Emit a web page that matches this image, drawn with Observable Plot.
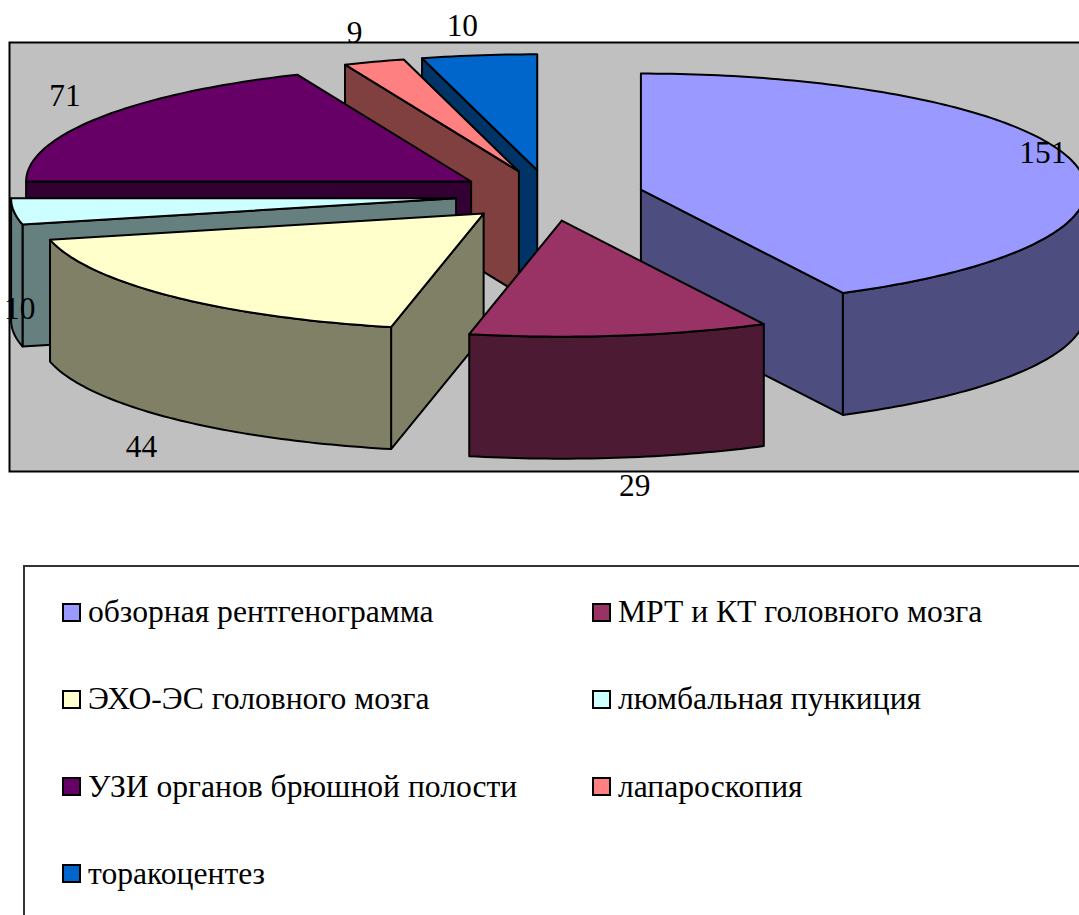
<!DOCTYPE html>
<html lang="ru">
<head>
<meta charset="utf-8">
<title>Диагностические методы</title>
<script src="https://cdn.jsdelivr.net/npm/d3@7"></script>
<script src="https://cdn.jsdelivr.net/npm/@observablehq/plot@0.6"></script>
<style>
  html, body { margin: 0; padding: 0; background: #fff; overflow: hidden; width: 1079px; height: 915px; }
  #chart svg { display: block; }
  #legend {
    position: absolute; left: 23px; top: 565px; width: 1100px; height: 400px;
    box-sizing: border-box; border: 2px solid #333; background: #fff;
    font: 31.6px "Liberation Serif", "Times New Roman", serif; color: #000;
  }
  .entry { position: absolute; display: flex; align-items: center; white-space: nowrap; height: 34px; }
  .swatch { width: 15px; height: 15px; border: 2px solid #000; margin-right: 7px; flex: none; }
</style>
</head>
<body>
<div id="chart"></div>
<div id="legend"></div>
<script>
// Survey counts per diagnostic method, in slice order.
const methods = [
  "обзорная рентгенограмма",
  "МРТ и КТ головного мозга",
  "ЭХО-ЭС головного мозга",
  "люмбальная пункиция",
  "УЗИ органов брюшной полости",
  "лапароскопия",
  "торакоцентез"
];
const counts = [151, 29, 44, 10, 71, 9, 10];
const topColors = ["#9999FF", "#993366", "#FFFFCC", "#CCFFFF", "#660066", "#FF8080", "#0066CC"];
const sideColors = ["#4D4D80", "#4D1A33", "#808066", "#668080", "#330033", "#804040", "#003366"];

// Oblique view of the exploded pie: a tilted disc of fixed thickness.
const view = { cx: 549, cy: 195, explode: 94, tilt: 0.27, rx: 445, ry: 116, depth: 122 };
// Viewing distortion: where each slice boundary lands on the tilted ellipse.
const viewedEdges = [0, 153, 192, 257, 270, 337, 345, 360];
// Label displacement from the slice rim, one pair per slice.
const labelNudge = [[-74, -7], [9, 139], [1, 142], [50, 96], [2, -15], [-5, -18], [-11, -18]];
// Painter's order: back slices first, the two front-right slices last.
const paintOrder = [6, 5, 4, 3, 2, 0, 1];

const rad = (deg) => (deg * Math.PI) / 180;
const total = d3.sum(counts);
const cumulative = d3.cumsum(counts);
const trueEdges = [0, ...cumulative].map((c) => (c / total) * 360);
const warp = d3.scaleLinear().domain(trueEdges).range(viewedEdges);

const slices = counts.map((value, i) => {
  const t0 = warp(trueEdges[i]);
  const t1 = warp(trueEdges[i + 1]);
  const mid = (t0 + t1) / 2;
  const apex = {
    x: view.cx + view.explode * Math.sin(rad(mid)),
    y: view.cy - view.explode * view.tilt * Math.cos(rad(mid))
  };
  return { i, value, t0, t1, mid, apex };
});

const rim = (s, t, drop = 0) => ({
  x: s.apex.x + view.rx * Math.sin(rad(t)),
  y: s.apex.y - view.ry * Math.cos(rad(t)) + drop
});
const arc = (s, a, b, drop = 0) => {
  const n = Math.max(2, Math.ceil(Math.abs(b - a)));
  return d3.range(n + 1).map((k) => rim(s, a + ((b - a) * k) / n, drop));
};
const close = (pts) => [...pts, pts[0]];
const radialFace = (s, t) => close([
  s.apex, rim(s, t), rim(s, t, view.depth), { x: s.apex.x, y: s.apex.y + view.depth }
]);

// Every visible face of a slice, as a closed outline in chart units.
function facesOf(s) {
  const faces = [];
  if (Math.sin(rad(s.t0)) < -1e-6) faces.push({ pts: radialFace(s, s.t0), fill: sideColors[s.i] });
  if (Math.sin(rad(s.t1)) > 1e-6) faces.push({ pts: radialFace(s, s.t1), fill: sideColors[s.i] });
  const a = Math.max(s.t0, 90), b = Math.min(s.t1, 270);
  if (b > a) {
    faces.push({
      pts: close([...arc(s, a, b), ...arc(s, b, a, view.depth)]),
      fill: sideColors[s.i]
    });
  }
  faces.push({ pts: close([s.apex, ...arc(s, s.t0, s.t1)]), fill: topColors[s.i] });
  return faces;
}

const faces = paintOrder.flatMap((i) => facesOf(slices[i]));

const labels = slices.map((s) => ({
  value: s.value,
  x: s.apex.x + 1.1 * view.rx * Math.sin(rad(s.mid)) + labelNudge[s.i][0],
  y: s.apex.y - 1.1 * view.ry * Math.cos(rad(s.mid)) + labelNudge[s.i][1]
}));

const plot = Plot.plot({
  width: 1079,
  height: 510,
  margin: 0,
  x: { domain: [0, 1079], range: [0, 1079], axis: null },
  y: { domain: [0, 510], range: [0, 510], axis: null },
  style: { background: "transparent", overflow: "hidden" },
  marks: [
    Plot.frame({
      fill: "#C0C0C0", stroke: "#000", strokeWidth: 2,
      insetLeft: 9, insetTop: 42, insetBottom: 39, insetRight: -6
    }),
    ...faces.map((f) => Plot.line(f.pts, {
      x: "x", y: "y", fill: f.fill, stroke: "#000", strokeWidth: 2,
      strokeLinejoin: "round", curve: "linear"
    })),
    Plot.text(labels, {
      x: "x", y: "y", text: (d) => String(d.value),
      fontFamily: "Liberation Serif, Times New Roman, serif",
      fontSize: 31.4, fill: "#000", lineAnchor: "middle", textAnchor: "middle"
    })
  ]
});
document.getElementById("chart").append(plot);

// Two-column legend under the chart, filled row by row.
const legend = document.getElementById("legend");
methods.forEach((name, i) => {
  const entry = document.createElement("div");
  entry.className = "entry";
  entry.style.left = (i % 2 ? 567 : 37) + "px";
  entry.style.top = 28 + 87.3 * Math.floor(i / 2) + "px";
  const swatch = document.createElement("span");
  swatch.className = "swatch";
  swatch.style.background = topColors[i];
  const text = document.createElement("span");
  text.textContent = name;
  entry.append(swatch, text);
  legend.append(entry);
});
</script>
</body>
</html>
